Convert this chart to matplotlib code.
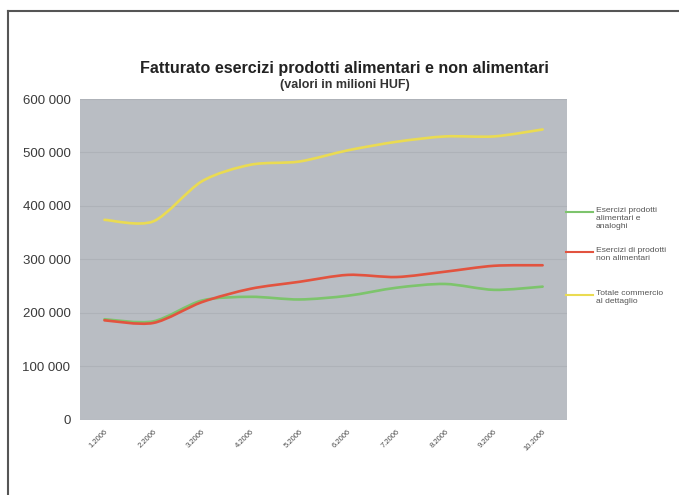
import matplotlib.pyplot as plt
from matplotlib.path import Path
from matplotlib.patches import PathPatch
from matplotlib.lines import Line2D
from matplotlib.ticker import FuncFormatter

plt.rcParams['font.family'] = ['Liberation Sans', 'DejaVu Sans']

# data (million HUF)
months = ['1.2006', '2.2006', '3.2006', '4.2006', '5.2006',
          '6.2006', '7.2006', '8.2006', '9.2006', '10.2006']
alimentari = [188000, 184000, 223000, 230000, 225000,
              232000, 247000, 254000, 243000, 249000]
non_alimentari = [186000, 181000, 220000, 245000, 258000,
                  271000, 267000, 277000, 288000, 289000]
totale = [374000, 371000, 446000, 477000, 483000,
          504000, 520000, 530000, 530000, 543000]

labels = ['Esercizi prodotti\nalimentari e\nanaloghi',
          'Esercizi di prodotti\nnon alimentari',
          'Totale commercio\nal dettaglio']
colors = ['#7dc46c', '#e2533f', '#eadb52']


def smooth_path(xs, ys, k=7.0):
    """Bezier path through the points (like Excel's smoothed line)."""
    pts = list(zip(xs, ys))
    verts = [pts[0]]
    codes = [Path.MOVETO]
    n = len(pts)
    for i in range(n - 1):
        p0 = pts[max(i - 1, 0)]
        p1 = pts[i]
        p2 = pts[i + 1]
        p3 = pts[min(i + 2, n - 1)]
        c1 = (p1[0] + (p2[0] - p0[0]) / k, p1[1] + (p2[1] - p0[1]) / k)
        c2 = (p2[0] - (p3[0] - p1[0]) / k, p2[1] - (p3[1] - p1[1]) / k)
        verts += [c1, c2, p2]
        codes += [Path.CURVE4] * 3
    return Path(verts, codes)


W, H = 679, 495
fig = plt.figure(figsize=(W / 100, H / 100), dpi=100)
ax = fig.add_axes([0.118, 0.152, 0.717, 0.648])
ax.set_facecolor('#b9bdc3')

x = list(range(len(months)))
for ser, c in zip([alimentari, non_alimentari, totale], colors):
    ax.add_patch(PathPatch(smooth_path(x, ser), facecolor='none', edgecolor=c,
                           linewidth=1.9, capstyle='round', joinstyle='round'))

ax.set_xlim(-0.5, len(months) - 0.5)
ax.set_ylim(0, 600000)
ax.set_yticks(range(0, 600001, 100000))
ax.yaxis.set_major_formatter(FuncFormatter(lambda v, p: f'{int(v):,}'.replace(',', ' ')))
ax.grid(axis='y', color='#aeb2b8', linewidth=0.8)
ax.set_axisbelow(True)
ax.set_xticks(x)
ax.set_xticklabels(months, rotation=45, ha='right', rotation_mode='anchor',
                   fontsize=5.5, color='#4a4a4a')
ax.tick_params(axis='y', labelsize=9.5, length=0, pad=7, labelcolor='#3a3a3a')
ax.tick_params(axis='x', length=0, pad=6)
for s in ax.spines.values():
    s.set_visible(False)

# legend drawn by hand: key line level with the first text line
leg_y = [212, 252, 295]
for lab, c, yy in zip(labels, colors, leg_y):
    fy = 1 - yy / H
    fig.add_artist(Line2D([566 / W, 593 / W], [fy, fy], color=c, linewidth=1.5))
    fig.text(596 / W, fy + 5 / H, lab, ha='left', va='top', fontsize=6.1,
             color='#555555', linespacing=1.2)

fig.text(0.508, 1 - 68 / H, 'Fatturato esercizi prodotti alimentari e non alimentari',
         ha='center', va='center', fontsize=11.6, fontweight='bold', color='#222222')
fig.text(0.508, 1 - 85 / H, '(valori in milioni HUF)', ha='center', va='center',
         fontsize=9, fontweight='bold', color='#333333')

# frame lines at top and left of the picture
fig.add_artist(Line2D([0.0125, 1.0], [0.977, 0.977], color='#555555', linewidth=1.5))
fig.add_artist(Line2D([0.0125, 0.0125], [0.0, 0.977], color='#555555', linewidth=1.5))

fig.savefig('out.png', dpi=100)
